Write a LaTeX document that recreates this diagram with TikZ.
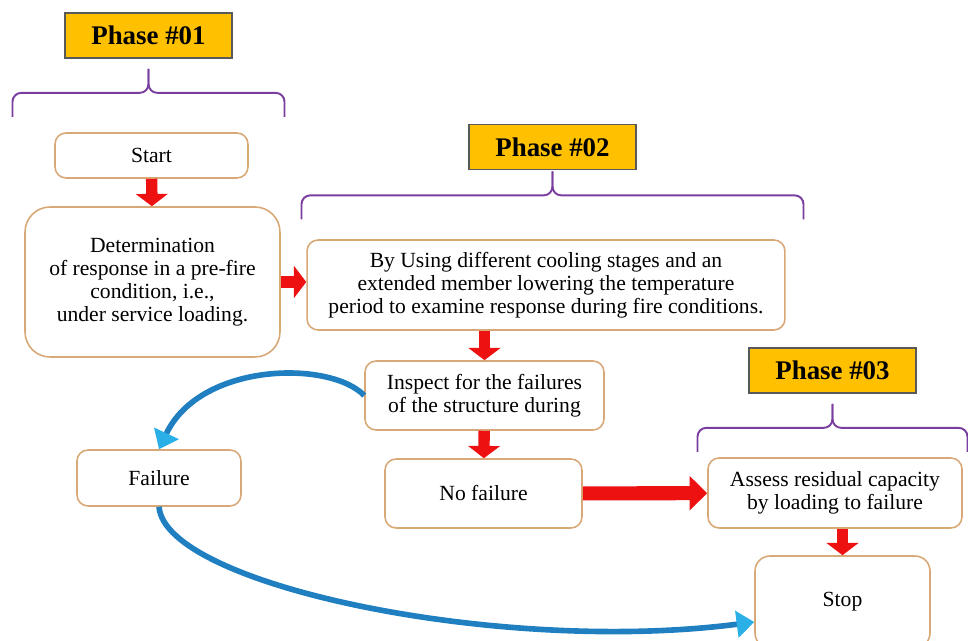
\documentclass[tikz,border=0pt]{standalone}
\usepackage{fontspec}
\setmainfont{Liberation Serif}
\usetikzlibrary{arrows.meta}
\definecolor{phasegold}{HTML}{FFC000}
\definecolor{boxtan}{HTML}{D9A877}
\definecolor{bracepurple}{HTML}{7A3DA0}
\definecolor{flowred}{HTML}{EE1111}
\definecolor{loopblue}{HTML}{1F7FC0}
\definecolor{loopcyan}{HTML}{2AAFE6}
\newcommand{\boxround}{.22cm}
% node, half width, gap below the node (px)
\newcommand{\phasebrace}[3]{%
  \draw[phbrace] (#1.south) ++(0,#3) -- ++(0,24) -- ++(-#2,0) -- ++(0,24);
  \draw[phbrace] (#1.south) ++(0,#3) -- ++(0,24) -- ++(#2,0) -- ++(0,24);}
\tikzset{
  stepbox/.style={draw=boxtan, line width=.9pt, rounded corners=\boxround, fill=white,
    align=center, font=\fontsize{12.3}{13.2}\selectfont, inner sep=2pt},
  phasebox/.style={draw=black!65, line width=1pt, fill=phasegold,
    font=\fontsize{15.3}{17}\selectfont\bfseries, minimum width=3.35cm, minimum height=.9cm},
  phbrace/.style={draw=bracepurple, line width=1.1pt, rounded corners=5pt},
  bluearrow/.style={draw=loopblue, line width=3.2pt,
    -{Triangle[length=10pt,width=15pt,color=loopcyan]}}
}

\begin{document}
\begin{tikzpicture}[x=.02cm,y=-.02cm]
    \useasboundingbox (0,0) rectangle (968,641);

    \begin{scope}[every node/.style={phasebox}]
        \node (ph1) at (148.5,35.5) {Phase \#01};
        \node (ph2) at (552.5,147) {Phase \#02};
        \node (ph3) at (832.5,370.5) {Phase \#03};
    \end{scope}

    \phasebrace{ph1}{136}{10}
    \phasebrace{ph2}{251}{1}
    \phasebrace{ph3}{135}{10}

    \begin{scope}[every node/.style={stepbox}]
        \node[minimum width=3.86cm, minimum height=.9cm] (start) at (151.5,155.5) {Start};
        \node[rounded corners=.5cm, minimum width=5.1cm, minimum height=3cm] (det) at (152.5,282)
            {Determination\\ of response in a pre-fire\\ condition, i.e.,\\ under service loading.};
        \node[minimum width=9.56cm, minimum height=1.8cm] (byuse) at (546,285)
            {By Using different cooling stages and an\\ extended member lowering the temperature\\ period to examine response during fire conditions.};
        \node[minimum width=4.78cm, minimum height=1.38cm] (insp) at (484.5,395.5)
            {Inspect for the failures\\ of the structure during};
        \node[minimum width=3.94cm, minimum height=1.38cm] (nofail) at (483.5,493.5) {No failure};
        \node[minimum width=3.28cm, minimum height=1.12cm] (fail) at (159,478) {Failure};
        \node[minimum width=5.08cm, minimum height=1.4cm] (assess) at (835,493)
            {Assess residual capacity\\ by loading to failure};
        \node[rounded corners=.3cm, minimum width=3.5cm, minimum height=1.84cm] (stop) at (842.5,602) {Stop};
    \end{scope}

    \begin{scope}[>={Triangle[length=7pt,width=18pt]},
        every edge/.style={draw=flowred, line width=6.5pt}]
        \path [->] (start) edge (det);
        \path [->] (det.east) edge (det.east -| byuse.west);
        \path [->] (insp.north |- byuse.south) edge (insp);
        \path [->] (insp) edge (nofail);
        \path [->] (stop.north |- assess.south) edge (stop);
        \path (nofail) edge[line width=8pt, -{Triangle[length=10pt,width=19pt]}] (assess);
    \end{scope}

    % failure loop
    \draw[bluearrow] (insp.west) .. controls (330,360) and (200,362) .. (fail.north);
    \draw[bluearrow] (fail.south) .. controls (165,585) and (500,655) .. ([yshift=-.4cm]stop.west);
\end{tikzpicture}
\end{document}
